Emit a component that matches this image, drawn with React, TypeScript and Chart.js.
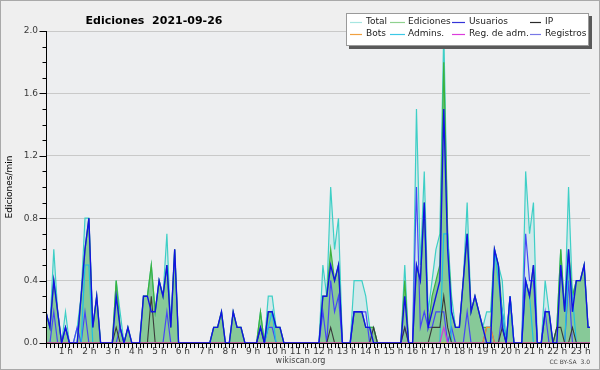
import { useEffect, useRef } from 'react';
import { Chart, registerables } from 'chart.js';

Chart.register(...registerables);

// 10-minute bins from 00:00 (index 0) onward; values in edits/min
const TOTAL = [
  0.2, 0.1, 0.6, 0.2, 0, 0.2, 0, 0, 0.1, 0.3,
  0.8, 0.8, 0.1, 0.3, 0, 0, 0, 0, 0.4, 0.2,
  0, 0.1, 0, 0, 0, 0.3, 0.3, 0.5, 0.2, 0.4,
  0.3, 0.7, 0.1, 0.6, 0, 0, 0, 0, 0, 0,
  0, 0, 0, 0.1, 0.1, 0.2, 0, 0, 0.2, 0.1,
  0.1, 0, 0, 0, 0, 0.2, 0, 0.3, 0.3, 0.1,
  0.1, 0, 0, 0, 0, 0, 0, 0, 0, 0,
  0, 0.5, 0.3, 1.0, 0.6, 0.8, 0, 0, 0, 0.4,
  0.4, 0.4, 0.3, 0.1, 0.1, 0, 0, 0, 0, 0,
  0, 0, 0.5, 0, 0, 1.5, 0.5, 1.1, 0.2, 0.4,
  0.6, 0.7, 2.0, 0.7, 0.3, 0.1, 0.1, 0.4, 0.9, 0.2,
  0.3, 0.2, 0.1, 0.2, 0.2, 0.6, 0.5, 0.4, 0, 0.3,
  0, 0, 0, 1.1, 0.7, 0.9, 0, 0, 0.4, 0.2,
  0, 0.1, 0.6, 0.2, 1.0, 0.3, 0.4, 0.4, 0.5, 0.1,
  0.1,
];
const EDICIONES = [
  0.2, 0.1, 0.4, 0.2, 0, 0.1, 0, 0, 0, 0.3,
  0.6, 0.8, 0.1, 0.3, 0, 0, 0, 0, 0.4, 0.1,
  0, 0.1, 0, 0, 0, 0.3, 0.3, 0.5, 0.2, 0.4,
  0.3, 0.5, 0.1, 0.6, 0, 0, 0, 0, 0, 0,
  0, 0, 0, 0.1, 0.1, 0.2, 0, 0, 0.2, 0.1,
  0.1, 0, 0, 0, 0, 0.2, 0, 0.2, 0.2, 0.1,
  0.1, 0, 0, 0, 0, 0, 0, 0, 0, 0,
  0, 0.3, 0.3, 0.6, 0.4, 0.5, 0, 0, 0, 0.2,
  0.2, 0.2, 0.1, 0.1, 0.1, 0, 0, 0, 0, 0,
  0, 0, 0.4, 0, 0, 0.5, 0.4, 0.9, 0.1, 0.3,
  0.4, 0.5, 1.8, 0.7, 0.2, 0.1, 0.1, 0.4, 0.7, 0.2,
  0.3, 0.2, 0.1, 0.1, 0.1, 0.6, 0.5, 0.2, 0, 0.3,
  0, 0, 0, 0.4, 0.3, 0.5, 0, 0, 0.2, 0.2,
  0, 0.1, 0.6, 0.2, 0.6, 0.3, 0.4, 0.4, 0.5, 0.1,
  0.1,
];
const USUARIOS = [
  0.2, 0.1, 0.4, 0.2, 0, 0.1, 0, 0, 0, 0.3,
  0.6, 0.8, 0.1, 0.3, 0, 0, 0, 0, 0.3, 0.1,
  0, 0.1, 0, 0, 0, 0.3, 0.3, 0.2, 0.2, 0.4,
  0.3, 0.5, 0.1, 0.6, 0, 0, 0, 0, 0, 0,
  0, 0, 0, 0.1, 0.1, 0.2, 0, 0, 0.2, 0.1,
  0.1, 0, 0, 0, 0, 0.1, 0, 0.2, 0.2, 0.1,
  0.1, 0, 0, 0, 0, 0, 0, 0, 0, 0,
  0, 0.3, 0.3, 0.5, 0.4, 0.5, 0, 0, 0, 0.2,
  0.2, 0.2, 0.1, 0.1, 0, 0, 0, 0, 0, 0,
  0, 0, 0.3, 0, 0, 0.5, 0.4, 0.9, 0.1, 0.2,
  0.3, 0.4, 1.5, 0.6, 0.2, 0.1, 0.1, 0.4, 0.7, 0.2,
  0.3, 0.2, 0.1, 0, 0, 0.6, 0.5, 0.1, 0, 0.3,
  0, 0, 0, 0.4, 0.3, 0.5, 0, 0, 0.2, 0.2,
  0, 0, 0.5, 0.2, 0.6, 0.2, 0.4, 0.4, 0.5, 0.1,
  0.1,
];
const IP = [
  0, 0, 0, 0, 0, 0, 0, 0, 0, 0,
  0, 0, 0, 0, 0, 0, 0, 0, 0.1, 0,
  0, 0, 0, 0, 0, 0, 0, 0.3, 0, 0,
  0, 0, 0, 0, 0, 0, 0, 0, 0, 0,
  0, 0, 0, 0, 0, 0, 0, 0, 0, 0,
  0, 0, 0, 0, 0, 0.1, 0, 0, 0, 0,
  0, 0, 0, 0, 0, 0, 0, 0, 0, 0,
  0, 0, 0, 0.1, 0, 0, 0, 0, 0, 0,
  0, 0, 0, 0, 0.1, 0, 0, 0, 0, 0,
  0, 0, 0.1, 0, 0, 0, 0, 0, 0, 0.1,
  0.1, 0.1, 0.3, 0.1, 0, 0, 0, 0, 0, 0,
  0, 0, 0, 0, 0, 0, 0, 0.1, 0, 0,
  0, 0, 0, 0, 0, 0, 0, 0, 0, 0,
  0, 0.1, 0.1, 0, 0, 0.1, 0, 0, 0, 0,
  0,
];
const BOTS = [
  0, 0, 0, 0, 0, 0, 0, 0, 0, 0,
  0, 0, 0, 0, 0, 0, 0, 0, 0, 0,
  0, 0, 0, 0, 0, 0, 0, 0, 0, 0,
  0, 0, 0, 0, 0, 0, 0, 0, 0, 0,
  0, 0, 0, 0, 0, 0, 0, 0, 0, 0,
  0, 0, 0, 0, 0, 0, 0, 0, 0, 0,
  0, 0, 0, 0, 0, 0, 0, 0, 0, 0,
  0, 0, 0, 0, 0, 0, 0, 0, 0, 0,
  0, 0, 0, 0, 0, 0, 0, 0, 0, 0,
  0, 0, 0, 0, 0, 0, 0, 0, 0, 0,
  0, 0, 0, 0, 0, 0, 0, 0, 0, 0,
  0, 0, 0, 0.1, 0.1, 0, 0, 0, 0, 0,
  0, 0, 0, 0, 0, 0, 0, 0, 0, 0,
  0, 0, 0, 0, 0, 0, 0, 0, 0, 0,
  0,
];
const ADMINS = [
  0, 0, 0, 0, 0, 0, 0, 0, 0, 0,
  0.5, 0.5, 0, 0, 0, 0, 0, 0, 0, 0,
  0, 0, 0, 0, 0, 0, 0, 0, 0, 0,
  0, 0, 0, 0, 0, 0, 0, 0, 0, 0,
  0, 0, 0, 0, 0, 0, 0, 0, 0, 0,
  0, 0, 0, 0, 0, 0, 0, 0.1, 0.2, 0,
  0, 0, 0, 0, 0, 0, 0, 0, 0, 0,
  0, 0, 0, 0, 0, 0, 0, 0, 0, 0,
  0, 0, 0, 0, 0, 0, 0, 0, 0, 0,
  0, 0, 0, 0, 0, 0, 0, 0, 0, 0,
  0, 0, 0.7, 0.7, 0, 0, 0, 0, 0, 0,
  0, 0, 0, 0, 0, 0.6, 0.4, 0.2, 0, 0.3,
  0, 0, 0, 0.4, 0.3, 0, 0, 0, 0, 0,
  0, 0, 0, 0, 0.5, 0.3, 0, 0, 0, 0,
  0,
];
const REG_ADM = [
  0, 0, 0, 0, 0, 0, 0, 0, 0, 0,
  0, 0, 0, 0, 0, 0, 0, 0, 0, 0,
  0, 0, 0, 0, 0, 0, 0, 0, 0, 0,
  0, 0, 0, 0, 0, 0, 0, 0, 0, 0,
  0, 0, 0, 0, 0, 0, 0, 0, 0, 0,
  0, 0, 0, 0, 0, 0, 0, 0, 0, 0,
  0, 0, 0, 0, 0, 0, 0, 0, 0, 0,
  0, 0, 0, 0, 0, 0, 0, 0, 0, 0,
  0, 0, 0, 0, 0, 0, 0, 0, 0, 0,
  0, 0, 0, 0, 0, 0, 0, 0, 0, 0,
  0, 0, 0.1, 0, 0, 0, 0, 0, 0, 0,
  0, 0, 0, 0, 0, 0, 0, 0, 0, 0,
  0, 0, 0, 0, 0, 0, 0, 0, 0, 0,
  0, 0, 0, 0, 0, 0, 0, 0, 0, 0,
  0,
];
const REGISTROS = [
  0, 0, 0.2, 0, 0, 0.1, 0, 0, 0.1, 0,
  0.2, 0, 0, 0, 0, 0, 0, 0, 0, 0.1,
  0, 0, 0, 0, 0, 0, 0, 0, 0, 0,
  0, 0.2, 0, 0, 0, 0, 0, 0, 0, 0,
  0, 0, 0, 0, 0, 0, 0, 0, 0, 0,
  0, 0, 0, 0, 0, 0, 0, 0.1, 0.1, 0,
  0, 0, 0, 0, 0, 0, 0, 0, 0, 0,
  0, 0.2, 0, 0.4, 0.2, 0.3, 0, 0, 0, 0.2,
  0.2, 0.2, 0.2, 0, 0, 0, 0, 0, 0, 0,
  0, 0, 0.1, 0, 0, 1.0, 0.1, 0.2, 0.1, 0.1,
  0.2, 0.2, 0.2, 0, 0.1, 0, 0, 0, 0.2, 0,
  0, 0, 0, 0.1, 0.1, 0, 0, 0.2, 0, 0,
  0, 0, 0, 0.7, 0.4, 0.4, 0, 0, 0.2, 0,
  0, 0, 0, 0, 0.4, 0, 0, 0, 0, 0,
  0,
];

const HOUR_LABELS = [
  '', '1 h', '2 h', '3 h', '4 h', '5 h', '6 h', '7 h', '8 h', '9 h', '10 h', '11 h',
  '12 h', '13 h', '14 h', '15 h', '16 h', '17 h', '18 h', '19 h', '20 h', '21 h', '22 h', '23 h',
];
const Y_LABELS = ['0.0', '0.4', '0.8', '1.2', '1.6', '2.0'];

const TITLE = 'Ediciones  2021-09-26';
const Y_TITLE = 'Ediciones/min';
const X_MAX = 139.5;
const FAMILY = '"DejaVu Sans", "Liberation Sans", sans-serif';

type Series = { label: string; data: number[]; color: string; legendColor: string; width: number; order: number; fill?: string };

const SERIES: Series[] = [
  { label: 'Total', data: TOTAL, color: '#3ecfc6', legendColor: '#a6e6e1', width: 1.2, order: 8, fill: 'rgba(62,207,198,0.15)' },
  { label: 'Ediciones', data: EDICIONES, color: '#3cb23c', legendColor: '#8fd18f', width: 1.2, order: 7, fill: 'rgba(60,170,70,0.5)' },
  { label: 'Usuarios', data: USUARIOS, color: '#1212e4', legendColor: '#3434d8', width: 1.4, order: 1 },
  { label: 'IP', data: IP, color: '#3a3a3a', legendColor: '#2a2a2a', width: 1.1, order: 4 },
  { label: 'Bots', data: BOTS, color: '#f09428', legendColor: '#f0a040', width: 1.2, order: 3 },
  { label: 'Admins.', data: ADMINS, color: '#1ec0e4', legendColor: '#3cc8e6', width: 1.2, order: 5 },
  { label: 'Reg. de adm.', data: REG_ADM, color: '#d23cd7', legendColor: '#dc3cdc', width: 1.2, order: 2 },
  { label: 'Registros', data: REGISTROS, color: '#4646f5', legendColor: '#7878e6', width: 1.2, order: 6 },
];

// legend grid: [row][col] -> series index
const LEGEND_LAYOUT = [
  [0, 1, 2, 3],
  [4, 5, 6, 7],
];

const bgPlugin = {
  id: 'bg',
  beforeDraw(chart: any) {
    const { ctx, width, height, chartArea } = chart;
    ctx.save();
    ctx.fillStyle = '#efefef';
    ctx.fillRect(0, 0, width, height);
    ctx.fillStyle = '#edeef0';
    ctx.fillRect(chartArea.left, chartArea.top, chartArea.right - chartArea.left, chartArea.bottom - chartArea.top);
    ctx.restore();
  },
};

const axesPlugin = {
  id: 'axes',
  afterDatasetsDraw(chart: any) {
    const { ctx, chartArea } = chart;
    const xs = chart.scales.x;
    const ys = chart.scales.y;
    ctx.save();
    ctx.strokeStyle = '#000';
    ctx.lineWidth = 1;
    ctx.beginPath();
    ctx.moveTo(chartArea.left + 0.5, chartArea.top);
    ctx.lineTo(chartArea.left + 0.5, chartArea.bottom + 0.5);
    ctx.lineTo(chartArea.right, chartArea.bottom + 0.5);
    for (let k = 0; k <= 20; k++) {
      const py = Math.round(ys.getPixelForValue(k / 10)) + 0.5;
      const len = k % 4 === 0 ? 7 : 4;
      ctx.moveTo(chartArea.left + 0.5 - len, py);
      ctx.lineTo(chartArea.left + 0.5, py);
    }
    for (let k = 0; k <= Math.floor(X_MAX); k++) {
      const px = Math.round(xs.getPixelForValue(k)) + 0.5;
      if (px > chartArea.right + 0.6) break;
      ctx.moveTo(px, chartArea.bottom);
      ctx.lineTo(px, chartArea.bottom + 5);
    }
    ctx.stroke();
    ctx.restore();
  },
  afterDraw(chart: any) {
    const { ctx, width, height } = chart;
    ctx.save();
    // outer border
    ctx.strokeStyle = '#a9a9a9';
    ctx.lineWidth = 1;
    ctx.strokeRect(0.5, 0.5, width - 1, height - 1);

    // title
    ctx.fillStyle = '#000';
    ctx.font = `bold 11px ${FAMILY}`;
    ctx.textAlign = 'center';
    ctx.textBaseline = 'alphabetic';
    ctx.fillText(TITLE, 154, 23.5);

    // legend box with shadow
    const bx = 346, by = 13, bw = 243, bh = 33;
    ctx.fillStyle = '#5a5a5a';
    ctx.fillRect(bx + 3, by + 3, bw, bh);
    ctx.fillStyle = '#ffffff';
    ctx.fillRect(bx, by, bw, bh);
    ctx.strokeStyle = '#9a9a9a';
    ctx.strokeRect(bx + 0.5, by + 0.5, bw - 1, bh - 1);

    const lineX = [[350, 362], [390, 405], [452, 465], [530, 541]];
    const textX = [366, 408, 469, 545];
    const rowY = [22, 33.5];
    ctx.font = `9px ${FAMILY}`;
    ctx.textAlign = 'left';
    ctx.textBaseline = 'middle';
    LEGEND_LAYOUT.forEach((row, r) => {
      row.forEach((si, c) => {
        const s = SERIES[si];
        ctx.strokeStyle = s.legendColor;
        ctx.lineWidth = 1.2;
        ctx.beginPath();
        ctx.moveTo(lineX[c][0], Math.round(rowY[r]) + 0.5);
        ctx.lineTo(lineX[c][1], Math.round(rowY[r]) + 0.5);
        ctx.stroke();
        ctx.fillStyle = '#222';
        ctx.fillText(s.label, textX[c], rowY[r]);
      });
    });

    // footer texts
    ctx.fillStyle = '#444';
    ctx.font = `8px ${FAMILY}`;
    ctx.textAlign = 'center';
    ctx.textBaseline = 'middle';
    ctx.fillText('wikiscan.org', 300.5, 361);
    ctx.font = `6px ${FAMILY}`;
    ctx.textAlign = 'right';
    ctx.fillText('CC BY-SA  3.0', 590, 362.5);
    ctx.restore();
  },
};

export default function App() {
  const ref = useRef<HTMLCanvasElement>(null);

  useEffect(() => {
    document.body.style.margin = '0';
    const canvas = ref.current;
    if (!canvas) return;
    const ctx = canvas.getContext('2d');
    if (!ctx) return;

    const datasets = SERIES.map((s) => ({
      label: s.label,
      data: s.data.map((v, i) => ({ x: i, y: v })),
      borderColor: s.color,
      borderWidth: s.width,
      backgroundColor: s.fill ?? s.color,
      fill: s.fill ? 'origin' : false,
      pointRadius: 0,
      tension: 0,
      order: s.order,
    }));

    const chart = new Chart(ctx, {
      type: 'line',
      data: { datasets },
      options: {
        animation: false,
        responsive: false,
        devicePixelRatio: 1,
        events: [],
        layout: { padding: { left: 0, right: 10, top: 31, bottom: 0 } },
        plugins: {
          legend: { display: false },
          tooltip: { enabled: false },
          title: { display: false },
        },
        scales: {
          x: {
            type: 'linear',
            min: 0,
            max: X_MAX,
            afterFit: (s: any) => {
              s.height = 27;
            },
            grid: { display: false, drawTicks: false },
            border: { display: false },
            ticks: {
              stepSize: 6,
              autoSkip: false,
              maxRotation: 0,
              minRotation: 0,
              includeBounds: false,
              padding: 3,
              labelOffset: -3.5,
              color: '#3a3a3a',
              font: { family: FAMILY, size: 9 },
              callback: (value: any) => {
                const v = Number(value);
                const k = Math.round(v / 6);
                return Math.abs(v - k * 6) < 1e-6 ? HOUR_LABELS[k] ?? '' : '';
              },
            },
          },
          y: {
            min: 0,
            max: 2,
            afterFit: (s: any) => {
              s.width = 46;
            },
            grid: {
              drawTicks: false,
              lineWidth: 1,
              color: (c: any) => {
                const k = Math.round(Number(c.tick?.value ?? 0) * 10);
                return k % 4 === 0 ? '#c9c9c9' : 'rgba(0,0,0,0)';
              },
            },
            border: { display: false },
            ticks: {
              stepSize: 0.1,
              autoSkip: false,
              padding: 8,
              color: '#3a3a3a',
              font: { family: FAMILY, size: 9 },
              callback: (value: any) => {
                const k = Math.round(Number(value) * 10);
                return k % 4 === 0 ? Y_LABELS[k / 4] : '';
              },
            },
            title: {
              display: true,
              text: Y_TITLE,
              color: '#000',
              font: { family: FAMILY, size: 9 },
              padding: { top: 4, bottom: 0 },
            },
          },
        },
      },
      plugins: [bgPlugin, axesPlugin],
    } as any);

    return () => chart.destroy();
  }, []);

  return <canvas ref={ref} width={600} height={370} style={{ display: 'block' }} />;
}
